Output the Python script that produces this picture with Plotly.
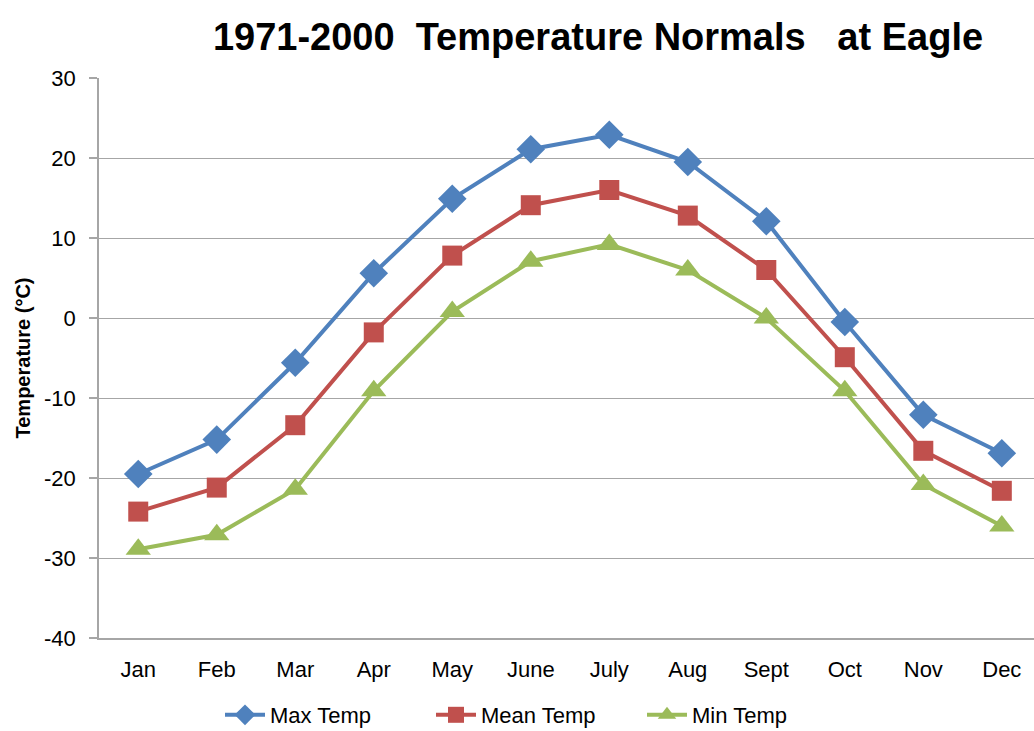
import plotly.graph_objects as go

months = ["Jan", "Feb", "Mar", "Apr", "May", "June", "July", "Aug", "Sept", "Oct", "Nov", "Dec"]
max_temp = [-19.5, -15.2, -5.6, 5.6, 14.9, 21.1, 22.9, 19.5, 12.1, -0.5, -12.1, -16.9]
mean_temp = [-24.2, -21.2, -13.4, -1.8, 7.8, 14.1, 16.0, 12.8, 6.0, -4.9, -16.6, -21.6]
min_temp = [-28.9, -27.1, -21.4, -9.1, 0.8, 7.1, 9.2, 6.0, 0.0, -9.1, -20.8, -26.0]
y_tick_vals = [30, 20, 10, 0, -10, -20, -30, -40]
y_tick_text = ["30", "20", "10", "0", "-10", "-20", "-30", "-40"]

FONT = "Liberation Sans, Arial, sans-serif"

fig = go.Figure()
series = [
    ("Max Temp", max_temp, "#4F81BD", "diamond", 22),
    ("Mean Temp", mean_temp, "#C0504D", "square", 20),
    ("Min Temp", min_temp, "#9BBB59", "triangle-up", 22),
]
for name, vals, color, sym, size in series:
    fig.add_trace(go.Scatter(
        x=months, y=vals, name=name, mode="lines+markers",
        line=dict(color=color, width=4),
        marker=dict(symbol=sym, size=size, color=color),
    ))

fig.update_layout(
    width=1034, height=731,
    margin=dict(l=99, r=0, t=78, b=93, autoexpand=False),
    paper_bgcolor="white", plot_bgcolor="white",
    font=dict(family=FONT, size=22, color="#000000"),
    title=dict(text="<b>1971-2000  Temperature Normals   at Eagle</b>",
               x=598 / 1034, xanchor="center", xref="container",
               y=1 - 37 / 731, yanchor="middle", yref="container",
               font=dict(family=FONT, size=38, color="#000000")),
    showlegend=True,
    legend=dict(orientation="h", x=(220 - 99) / 935, xanchor="left",
                y=(638 - 715) / 560, yanchor="middle",
                font=dict(family=FONT, size=22), entrywidth=156, entrywidthmode="pixels",
                itemwidth=40, bgcolor="rgba(0,0,0,0)"),
    xaxis=dict(type="category", range=[-0.5, 11.41], showgrid=False,
               showline=True, linecolor="#A6A6A6", linewidth=1.5,
               ticks="", ticklabelstandoff=11, tickfont=dict(family=FONT, size=22),
               fixedrange=True),
    yaxis=dict(range=[-40, 30], tickmode="array", tickvals=y_tick_vals, ticktext=y_tick_text,
               showgrid=True, gridcolor="#A6A6A6", gridwidth=1,
               showline=True, linecolor="#A6A6A6", linewidth=1.5,
               ticks="outside", ticklen=8, tickcolor="#A6A6A6", tickwidth=1.5,
               ticklabelstandoff=9, tickfont=dict(family=FONT, size=22),
               zeroline=False, fixedrange=True,
               title=dict(text="<b>Temperature (°C)</b>", standoff=8,
                          font=dict(family=FONT, size=20))),
)

fig.write_html("out.html", config={"displayModeBar": False},
               post_script="document.body.style.margin='0';document.body.style.overflow='hidden';")
